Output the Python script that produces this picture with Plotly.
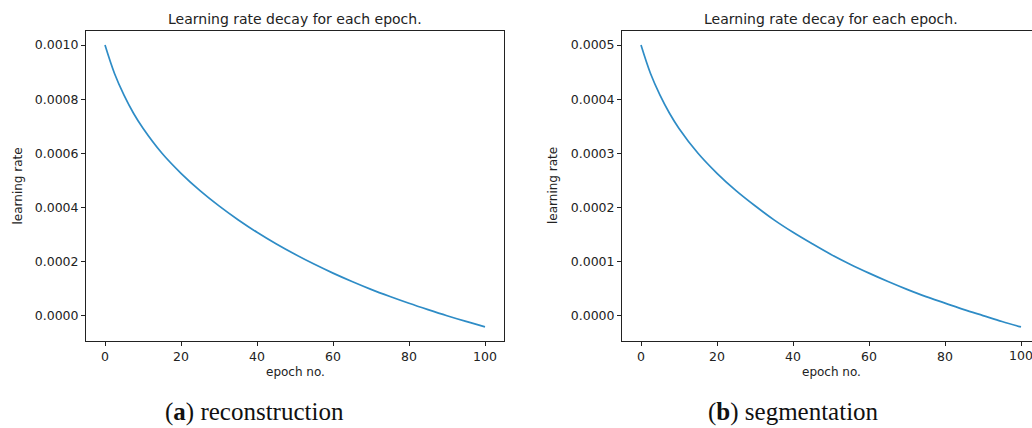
import plotly.graph_objects as go

# ---- data ----
epochs = [0, 2.5, 5, 7.5, 10, 15, 20, 25, 30, 35, 40, 45, 50, 55, 60, 65, 70, 75, 80, 85, 90, 95, 100]
lr_reconstruction = [0.0010000, 0.0008950, 0.0008150, 0.0007480, 0.0006925, 0.0006000,
                     0.0005260, 0.0004620, 0.0004055, 0.0003545, 0.0003080, 0.0002655,
                     0.0002265, 0.0001905, 0.0001570, 0.0001260, 0.0000970, 0.0000705,
                     0.0000455, 0.0000220, -0.0000005, -0.0000215, -0.0000415]
lr_segmentation = [0.0005000, 0.0004475, 0.0004075, 0.0003740, 0.0003460, 0.0003000,
                   0.0002630, 0.0002310, 0.0002030, 0.0001770, 0.0001540, 0.0001330,
                   0.0001130, 0.0000950, 0.0000785, 0.0000630, 0.0000485, 0.0000350,
                   0.0000230, 0.0000110, 0.0000000, -0.0000110, -0.0000210]
x_ticks = [0, 20, 40, 60, 80, 100]
y_ticks_a = [0.0000, 0.0002, 0.0004, 0.0006, 0.0008, 0.0010]
y_ticks_b = [0.0000, 0.0001, 0.0002, 0.0003, 0.0004, 0.0005]
title_text = "Learning rate decay for each epoch."
x_label = "epoch no."
y_label = "learning rate"
captions = ["(<b>a</b>) reconstruction", "(<b>b</b>) segmentation"]

W, H = 1032, 428
LINE_COLOR = "#2e8cc6"
FONT = "DejaVu Sans"
TXT = "#222"

fig = go.Figure()
fig.add_trace(go.Scatter(x=epochs, y=lr_reconstruction, mode="lines", line_shape="spline",
                         line=dict(color=LINE_COLOR, width=1.7), xaxis="x", yaxis="y",
                         showlegend=False, hoverinfo="skip"))
fig.add_trace(go.Scatter(x=epochs, y=lr_segmentation, mode="lines", line_shape="spline",
                         line=dict(color=LINE_COLOR, width=1.7), xaxis="x2", yaxis="y2",
                         showlegend=False, hoverinfo="skip"))

px_l1, px_r1 = 86, 504
px_l2, px_r2 = 622, 1032
px_top, px_bot = 31, 341
ydom = [(H - px_bot) / H, (H - px_top) / H]

axis_common = dict(showgrid=False, zeroline=False, showline=True, linecolor=TXT,
                   linewidth=1, ticks="outside", ticklen=4, tickwidth=1, tickcolor=TXT,
                   tickfont=dict(family=FONT, size=12.5, color=TXT))

px_per_epoch = 3.8
xr2_end = -5 + (px_r2 - px_l2) / px_per_epoch

fig.update_layout(
    width=W, height=H, margin=dict(l=0, r=0, t=0, b=0),
    paper_bgcolor="white", plot_bgcolor="white",
    xaxis=dict(domain=[px_l1 / W, px_r1 / W], range=[-5, 105], tickvals=x_ticks,
               anchor="y", mirror=True, **axis_common),
    yaxis=dict(domain=ydom, range=[-0.0000939, 0.0010521], tickvals=y_ticks_a,
               tickformat=".4f", anchor="x", mirror=True, **axis_common),
    xaxis2=dict(domain=[px_l2 / W, 1.0], range=[-5, xr2_end], tickvals=x_ticks,
                anchor="y2", mirror=True, **axis_common),
    yaxis2=dict(domain=ydom, range=[-0.0000470, 0.0005261], tickvals=y_ticks_b,
                tickformat=".4f", anchor="x2", mirror=False, **axis_common),
)

ann = []
centers = [(px_l1 + px_r1) / 2, (px_l2 + px_l2 + 418) / 2]
for cx in centers:
    ann.append(dict(text=title_text, x=cx / W, y=(H - 19) / H, xref="paper", yref="paper",
                    showarrow=False, xanchor="center", yanchor="middle",
                    font=dict(family=FONT, size=14, color=TXT)))
for cx in centers:
    ann.append(dict(text=x_label, x=cx / W, y=(H - 372) / H, xref="paper", yref="paper",
                    showarrow=False, xanchor="center", yanchor="middle",
                    font=dict(family=FONT, size=12, color=TXT)))
for cx in [17.5, 553]:
    ann.append(dict(text=y_label, x=cx / W, y=(H - 186) / H, xref="paper", yref="paper",
                    showarrow=False, xanchor="center", yanchor="middle", textangle=-90,
                    font=dict(family=FONT, size=12, color=TXT)))
# last x tick label of the right panel (partly cut at the figure edge, as in the reference)
ann.append(dict(text=str(x_ticks[-1]), x=x_ticks[-1], xref="x2", y=(H - 355) / H, yref="paper",
                showarrow=False, xanchor="center", yanchor="middle",
                font=dict(family=FONT, size=12.5, color=TXT)))
for cx, txt in zip([254, 793], captions):
    ann.append(dict(text=txt, x=cx / W, y=(H - 412) / H, xref="paper", yref="paper",
                    showarrow=False, xanchor="center", yanchor="middle",
                    font=dict(family="Liberation Serif", size=25, color="#111")))
fig.update_layout(annotations=ann)

fig.write_html("out.html", config={"displayModeBar": False},
               post_script="document.body.style.margin='0';document.body.style.overflow='hidden';")
